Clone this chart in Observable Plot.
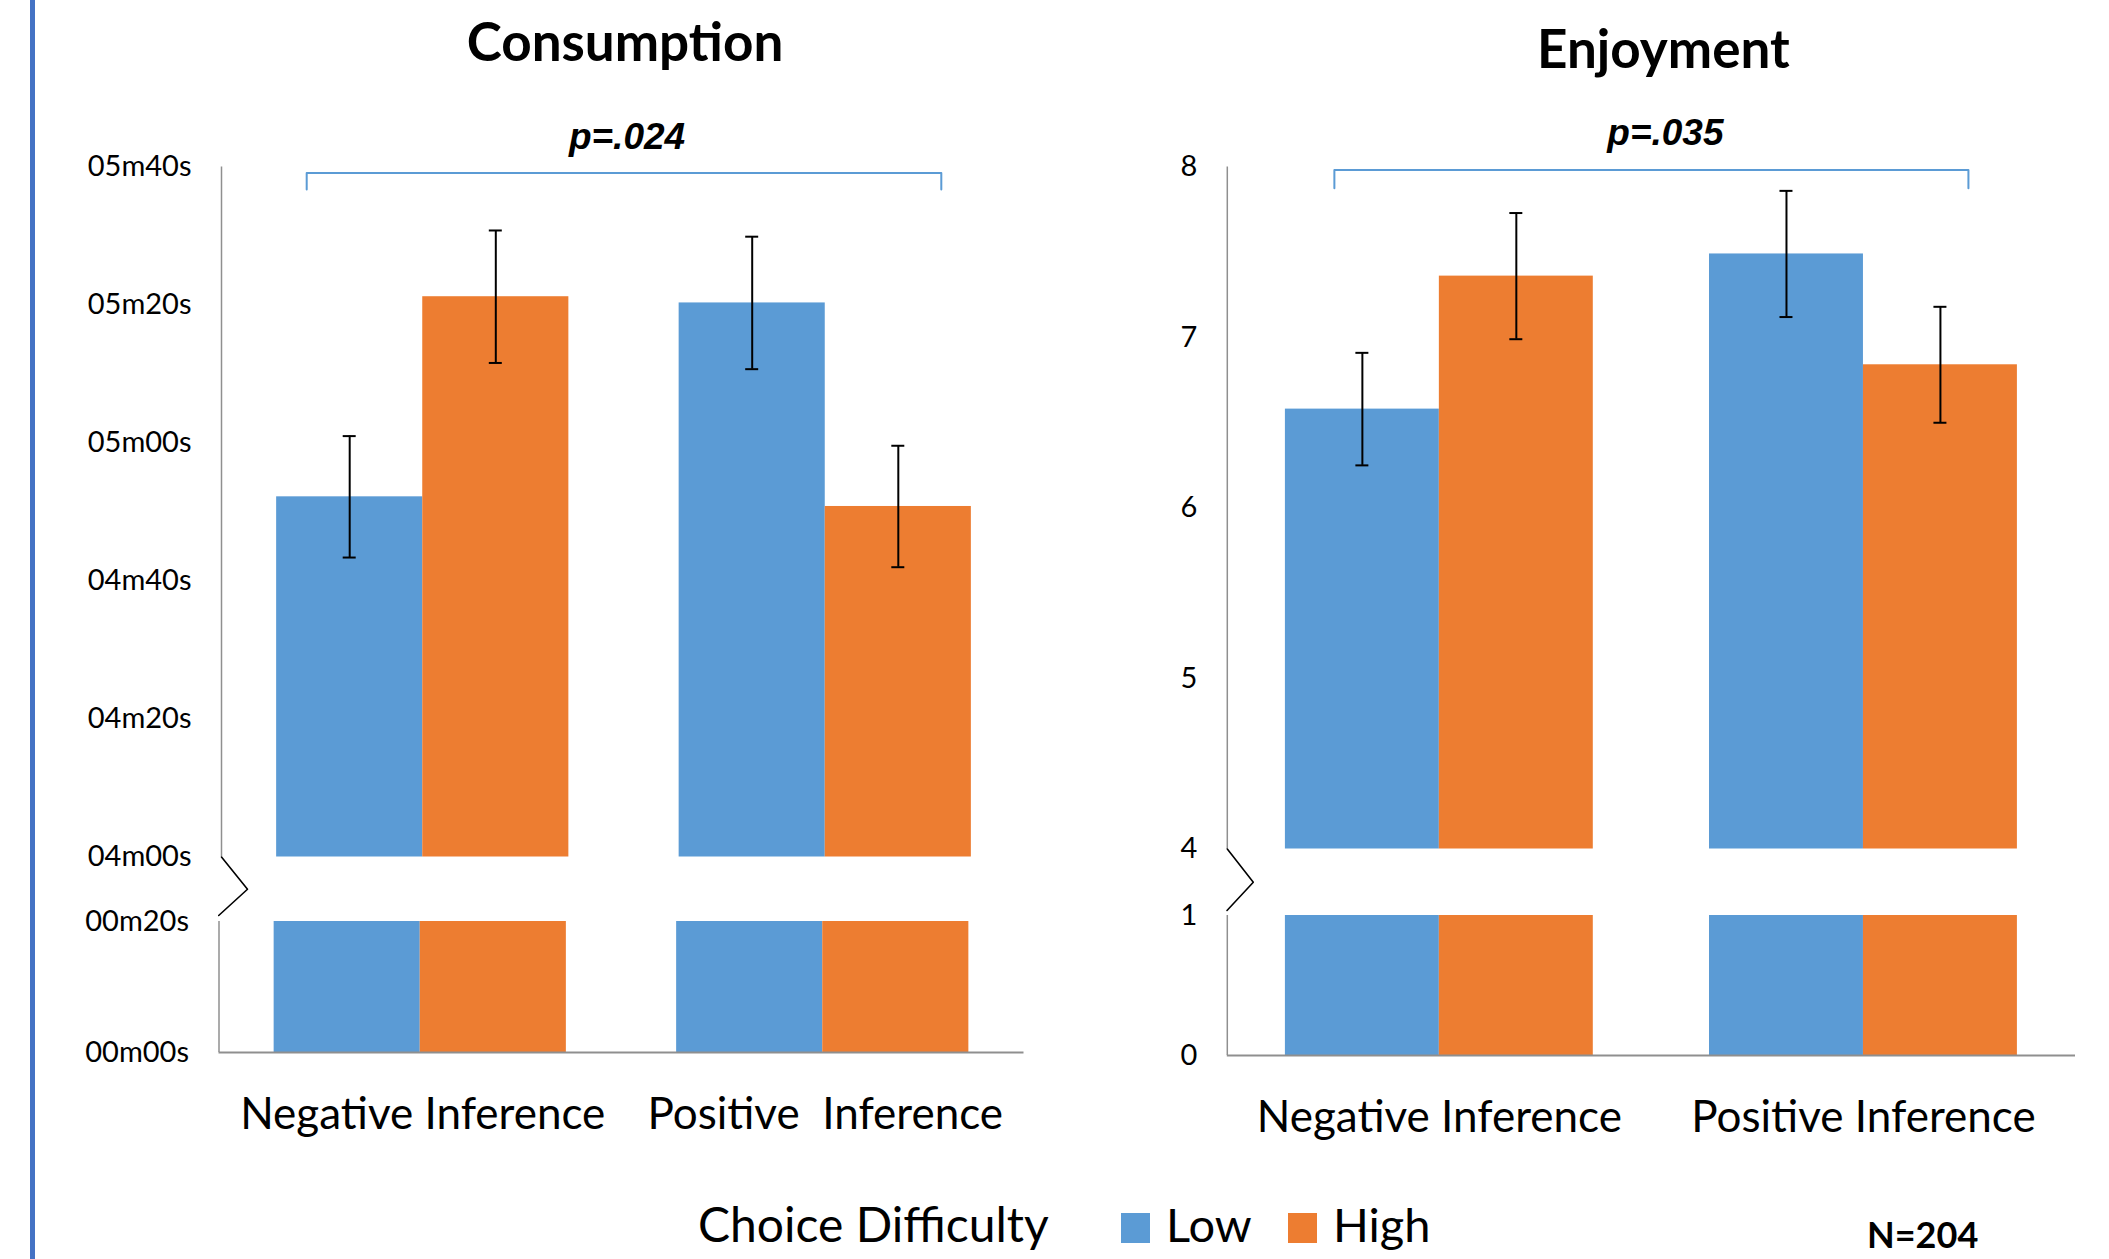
<!DOCTYPE html>
<html><head><meta charset="utf-8">
<script src="https://cdn.jsdelivr.net/npm/d3@7"></script>
<script src="https://cdn.jsdelivr.net/npm/@observablehq/plot@0.6"></script>
<style>
html,body{margin:0;padding:0;background:#fff;}
#root{position:relative;width:2109px;height:1259px;overflow:hidden;background:#fff;font-family:Lato,sans-serif;}
#root svg{position:absolute;overflow:visible;}
#root svg text{white-space:pre;}
.sideline{position:absolute;left:30px;top:0;width:5px;height:1259px;background:#4472C4;}
</style></head><body><div id="root"><div class="sideline"></div></div>
<script>
// ---------- data ----------
const categories = ["Negative Inference", "Positive Inference"];
const leftLabels = ["Negative Inference", "Positive  Inference"];
const rightLabels = ["Negative Inference", "Positive Inference"];
const series = ["Low", "High"];
const colors = ["#5B9BD5", "#ED7D31"];

const consumptionLow = [292.2, 320.3];      // seconds
const consumptionHigh = [321.2, 290.8];
const consumptionErrLow = [8.8, 9.6];
const consumptionErrHigh = [9.6, 8.8];
const consumptionTicks = [0, 20, 240, 260, 280, 300, 320, 340];
const consumptionBreak = [20, 240];

const enjoymentLow = [6.58, 7.49];
const enjoymentHigh = [7.36, 6.84];
const enjoymentErrLow = [0.33, 0.37];
const enjoymentErrHigh = [0.37, 0.34];
const enjoymentTicks = [0, 1, 4, 5, 6, 7, 8];
const enjoymentBreak = [1, 4];

const titles = ["Consumption", "Enjoyment"];
const pValues = ["p=.024", "p=.035"];
const legendTitle = "Choice Difficulty";
const sampleNote = "N=204";

const fmtTime = s => String(Math.floor(s / 60)).padStart(2, "0") + "m" + String(Math.round(s % 60)).padStart(2, "0") + "s";
const fmtNum = d => String(d);

// ---------- chart builder (broken y axis) ----------
function makeChart(c) {
  const barW = 0.363;
  const xLo = c.marginLeft, xHi = c.width - c.marginRight;
  const ppu = (xHi - xLo) / 2;
  const [pxBottom, pxLowerTop, pxUpperBottom, pxTop] = c.yRange;
  const yMax = c.ticks[c.ticks.length - 1];
  // broken axis: map a value to a continuous "axis length" coordinate (two linear pieces, gap between them)
  const T = d3.scaleLinear()
    .domain([0, c.brk[0], c.brk[1], yMax])
    .range([0, pxBottom - pxLowerTop, pxBottom - pxUpperBottom, pxBottom - pxTop]);
  const uMax = T(yMax), uLo = T(c.brk[0]), uHi = T(c.brk[1]);
  const rows = [];
  for (let i = 0; i < categories.length; i++) {
    for (let j = 0; j < series.length; j++) {
      const v = (j === 0 ? c.low : c.high)[i];
      const e = (j === 0 ? c.errLow : c.errHigh)[i];
      const x1 = i + 0.5 + (j - 1) * barW;
      rows.push({cat: categories[i], series: series[j], value: T(v), lo: T(v - e), hi: T(v + e),
                 x1, x2: x1 + barW, xc: x1 + barW / 2});
    }
  }
  const cap = c.capPx / ppu;
  const first = rows[0], last = rows[rows.length - 1];
  const bTop = pxBottom - c.bracketTopPx, bFoot = pxBottom - c.bracketFootPx;
  const bracket = [
    {x: first.xc - c.bracketExt / ppu, y: bFoot},
    {x: first.xc - c.bracketExt / ppu, y: bTop},
    {x: last.xc + c.bracketExt / ppu, y: bTop},
    {x: last.xc + c.bracketExt / ppu, y: bFoot}
  ];
  const zig = [
    {x: 0, y: uHi},
    {x: c.zigOut / ppu, y: (uHi + uLo) / 2},
    {x: (c.lowerShift - 0.3) / ppu, y: uLo + c.zigGap}
  ];
  const axisColor = "#8f8f8f";
  const upperTicks = c.ticks.filter(t => t >= c.brk[1]);
  const lowerTicks = c.ticks.filter(t => t <= c.brk[0]);

  const svg = Plot.plot({
    width: c.width, height: c.height,
    marginLeft: c.marginLeft, marginRight: c.marginRight,
    marginTop: pxTop, marginBottom: c.height - pxBottom,
    x: {domain: [0, 2], axis: null},
    y: {domain: [0, uMax], axis: null},
    color: {domain: series, range: colors},
    style: {fontFamily: "Lato, sans-serif", background: "transparent", overflow: "visible"},
    marks: [
      // bars: upper segment (above the break) and lower segment (below the break)
      Plot.rect(rows, {x1: "x1", x2: "x2", y1: uHi, y2: "value", fill: "series"}),
      Plot.rect(rows, {x1: "x1", x2: "x2", y1: 0, y2: uLo, fill: "series", dx: c.lowerShift}),
      // axes
      Plot.ruleX([0], {y1: uHi, y2: uMax, stroke: axisColor, strokeWidth: 1.5}),
      Plot.ruleX([0], {y1: 0, y2: uLo, stroke: axisColor, strokeWidth: 1.5, dx: c.lowerShift}),
      Plot.ruleY([0], {x1: 0, x2: 2, stroke: axisColor, strokeWidth: 2, dx: c.lowerShift}),
      Plot.line(zig, {x: "x", y: "y", stroke: "black", strokeWidth: 1.6}),
      // error bars
      Plot.ruleX(rows, {x: "xc", y1: "lo", y2: "hi", stroke: "black", strokeWidth: 2}),
      Plot.ruleY(rows, {y: "lo", x1: d => d.xc - cap, x2: d => d.xc + cap, stroke: "black", strokeWidth: 2}),
      Plot.ruleY(rows, {y: "hi", x1: d => d.xc - cap, x2: d => d.xc + cap, stroke: "black", strokeWidth: 2}),
      // tick labels
      Plot.text(upperTicks, {x: 0, y: d => T(d), text: c.tickFormat, textAnchor: "end", dx: -30, lineAnchor: "middle", fontSize: c.tickFont, fill: "black"}),
      Plot.text(lowerTicks, {x: 0, y: d => T(d), text: c.tickFormat, textAnchor: "end", dx: -30 + c.lowerShift, lineAnchor: "middle", fontSize: c.tickFont, fill: "black"}),
      // category labels
      Plot.text(c.labels, {x: (d, i) => i + 0.5, text: d => d, frameAnchor: "bottom", lineAnchor: "middle", dy: c.labelDy, fontSize: c.labelFont, fill: "black"}),
      // significance bracket + p value
      Plot.line(bracket, {x: "x", y: "y", stroke: "#5B9BD5", strokeWidth: 2, strokeLinejoin: "round"}),
      Plot.text([c.p], {x: 1, frameAnchor: "top", lineAnchor: "middle", dy: c.pDy, dx: c.pDx, text: d => d, fontFamily: "Liberation Sans, Arial, sans-serif",
        fontStyle: "italic", fontWeight: "bold", fontSize: c.pFont, fill: "black"}),
      // title
      Plot.text([c.title], {x: 1, frameAnchor: "top", lineAnchor: "middle", dy: c.titleDy, dx: c.titleDx, text: d => d, fontWeight: "bold", fontSize: c.titleFont, fill: "black"})
    ]
  });
  svg.style.left = c.left + "px";
  svg.style.top = "0px";
  svg.querySelectorAll("text").forEach(t => t.style.whiteSpace = "pre");
  return svg;
}

const root = document.getElementById("root");

root.appendChild(makeChart({
  left: 0, width: 1060, height: 1160, marginLeft: 221, marginRight: 34,
  yRange: [1052, 921, 856.5, 166.5],
  brk: consumptionBreak, ticks: consumptionTicks, tickFormat: fmtTime,
  low: consumptionLow, high: consumptionHigh, errLow: consumptionErrLow, errHigh: consumptionErrHigh,
  labels: leftLabels, title: titles[0], p: pValues[0],
  capPx: 6.5, bracketExt: 43, bracketTopPx: 172.5, bracketFootPx: 189,
  zigOut: 26, zigGap: 6, lowerShift: -2.5,
  tickFont: 29, labelFont: 44, labelDy: 62.9, pFont: 37, pDy: -29.5, pDx: 3,
  titleFont: 53, titleDy: -122.5, titleDx: 1
}));

root.appendChild(makeChart({
  left: 1060, width: 1049, height: 1160, marginLeft: 166.8, marginRight: 34,
  yRange: [1055, 915, 848.5, 166.5],
  brk: enjoymentBreak, ticks: enjoymentTicks, tickFormat: fmtNum,
  low: enjoymentLow, high: enjoymentHigh, errLow: enjoymentErrLow, errHigh: enjoymentErrHigh,
  labels: rightLabels, title: titles[1], p: pValues[1],
  capPx: 6.5, bracketExt: 28, bracketTopPx: 169.4, bracketFootPx: 187.8,
  zigOut: 26, zigGap: 5, lowerShift: 0,
  tickFont: 29, labelFont: 44, labelDy: 62.9, pFont: 37, pDy: -33.5, pDx: 14,
  titleFont: 53, titleDy: -115.5, titleDx: 12
}));

// ---------- legend row ----------
const leg = d3.select(root).append("svg")
  .attr("width", 2109).attr("height", 99)
  .style("left", "0px").style("top", "1160px")
  .style("font-family", "Lato, sans-serif");
leg.append("text").attr("x", 698).attr("y", 82).attr("font-size", 48).attr("fill", "black").text(legendTitle);
const legX = [1121, 1288];
series.forEach((s, i) => {
  leg.append("rect").attr("x", legX[i]).attr("y", 53).attr("width", 29).attr("height", 30).attr("fill", colors[i]);
  leg.append("text").attr("x", legX[i] + 45).attr("y", 82).attr("font-size", 47).attr("fill", "black").text(s);
});
leg.append("text").attr("x", 1867).attr("y", 87.5).attr("font-size", 36).attr("font-weight", "bold").attr("fill", "black").text(sampleNote);
</script></body></html>
